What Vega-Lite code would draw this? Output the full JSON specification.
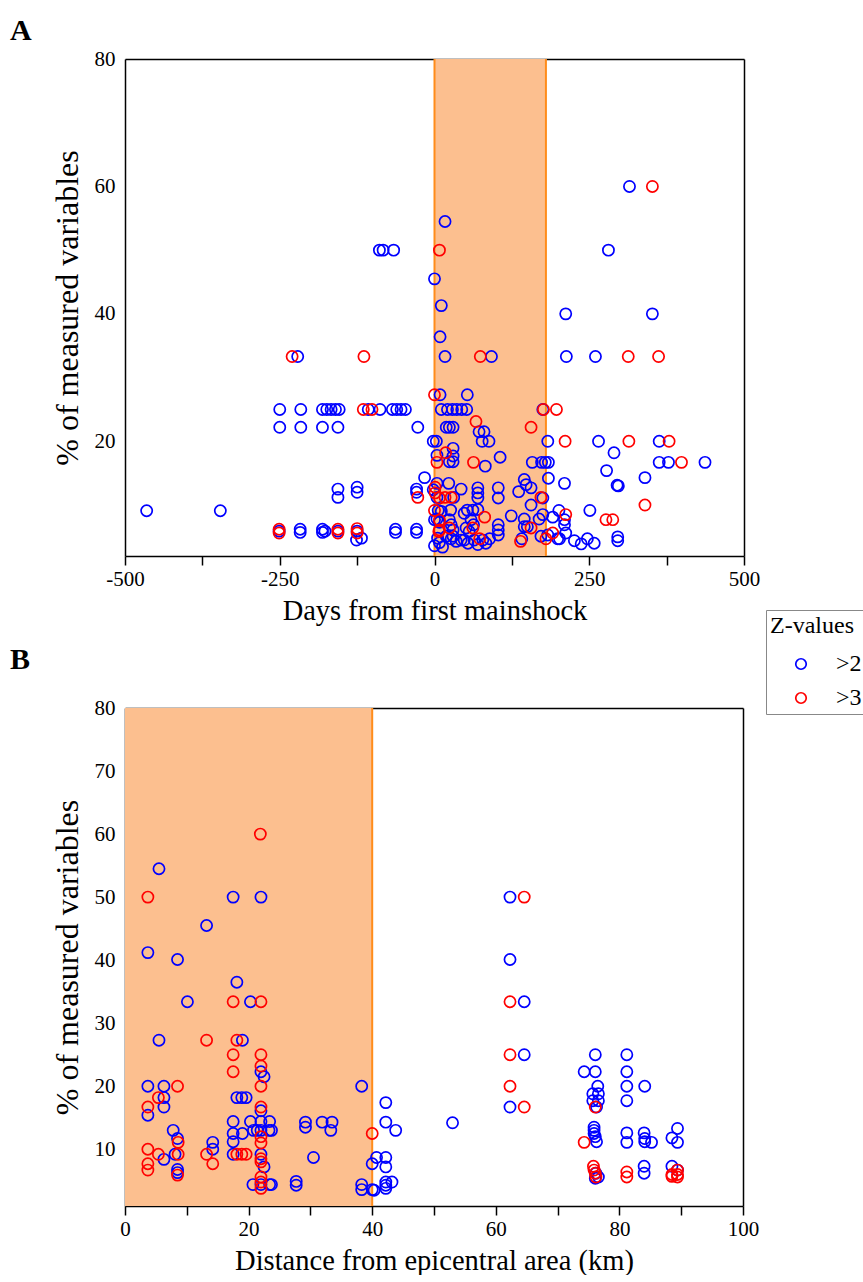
{
  "$schema": "https://vega.github.io/schema/vega-lite/v6.json",
  "padding": {"left": 10, "top": 16, "right": 0, "bottom": 0},
  "background": "white",
  "config": {
    "font": "Liberation Serif",
    "view": {"stroke": null},
    "axis": {
      "domainColor": "#000", "domainWidth": 1.5, "tickColor": "#000", "tickWidth": 1.5,
      "labelFont": "Liberation Serif", "labelFontSize": 21, "labelColor": "#000",
      "titleFont": "Liberation Serif", "titleFontSize": 28.5, "titleFontWeight": "normal", "titleColor": "#000",
      "grid": false, "zindex": 1, "labelOverlap": false, "labelFlush": false
    },
    "title": {"font": "Liberation Serif", "fontSize": 30, "fontWeight": "bold", "color": "#000"}
  },
  "datasets": {
    "a": [
      {"x":-465,"y":9.1,"z":">2"},{"x":-346,"y":9.1,"z":">2"},{"x":-221,"y":33.3,"z":">2"},
      {"x":-250,"y":25,"z":">2"},{"x":-216,"y":25,"z":">2"},{"x":-181,"y":25,"z":">2"},{"x":-174,"y":25,"z":">2"},{"x":-167,"y":25,"z":">2"},{"x":-160,"y":25,"z":">2"},{"x":-154,"y":25,"z":">2"},{"x":-107,"y":25,"z":">2"},{"x":-88,"y":25,"z":">2"},{"x":-68,"y":25,"z":">2"},{"x":-61,"y":25,"z":">2"},{"x":-54,"y":25,"z":">2"},{"x":-47,"y":25,"z":">2"},
      {"x":-250,"y":22.2,"z":">2"},{"x":-216,"y":22.2,"z":">2"},{"x":-181,"y":22.2,"z":">2"},{"x":-156,"y":22.2,"z":">2"},{"x":-27,"y":22.2,"z":">2"},
      {"x":-156,"y":12.5,"z":">2"},{"x":-156,"y":11.2,"z":">2"},{"x":-125,"y":12.8,"z":">2"},{"x":-125,"y":12.0,"z":">2"},{"x":-29,"y":12.5,"z":">2"},{"x":-29,"y":12.0,"z":">2"},{"x":-16,"y":14.3,"z":">2"},
      {"x":-251,"y":5.9,"z":">2"},{"x":-217,"y":6.2,"z":">2"},{"x":-217,"y":5.7,"z":">2"},{"x":-181,"y":6.2,"z":">2"},{"x":-181,"y":5.7,"z":">2"},{"x":-177,"y":5.9,"z":">2"},{"x":-156,"y":5.9,"z":">2"},{"x":-125,"y":5.9,"z":">2"},{"x":-126,"y":4.5,"z":">2"},{"x":-118,"y":4.8,"z":">2"},{"x":-63,"y":6.2,"z":">2"},{"x":-63,"y":5.7,"z":">2"},{"x":-29,"y":6.2,"z":">2"},{"x":-29,"y":5.7,"z":">2"},
      {"x":-89,"y":50,"z":">2"},{"x":-83,"y":50,"z":">2"},{"x":-66,"y":50,"z":">2"},
      {"x":0,"y":45.5,"z":">2"},{"x":11,"y":41.3,"z":">2"},{"x":9,"y":36.4,"z":">2"},{"x":17,"y":33.3,"z":">2"},{"x":17,"y":54.5,"z":">2"},{"x":9,"y":27.3,"z":">2"},{"x":53,"y":27.3,"z":">2"},
      {"x":11,"y":25,"z":">2"},{"x":21,"y":25,"z":">2"},{"x":29,"y":25,"z":">2"},{"x":36,"y":25,"z":">2"},{"x":44,"y":25,"z":">2"},{"x":52,"y":25,"z":">2"},{"x":175,"y":25,"z":">2"},
      {"x":19,"y":22.2,"z":">2"},{"x":24,"y":22.2,"z":">2"},{"x":30,"y":22.2,"z":">2"},
      {"x":72,"y":21.5,"z":">2"},{"x":80,"y":21.5,"z":">2"},{"x":77,"y":20,"z":">2"},{"x":88,"y":20,"z":">2"},{"x":-2,"y":20,"z":">2"},{"x":3,"y":20,"z":">2"},{"x":183,"y":20,"z":">2"},{"x":265,"y":20,"z":">2"},{"x":363,"y":20,"z":">2"},
      {"x":30,"y":18.9,"z":">2"},{"x":4,"y":17.8,"z":">2"},{"x":30,"y":17.7,"z":">2"},{"x":24,"y":16.8,"z":">2"},{"x":30,"y":16.8,"z":">2"},{"x":82,"y":16.1,"z":">2"},{"x":106,"y":17.5,"z":">2"},{"x":158,"y":16.7,"z":">2"},{"x":173,"y":16.7,"z":">2"},{"x":179,"y":16.7,"z":">2"},{"x":184,"y":16.7,"z":">2"},{"x":290,"y":18.2,"z":">2"},{"x":363,"y":16.7,"z":">2"},{"x":378,"y":16.7,"z":">2"},{"x":437,"y":16.7,"z":">2"},{"x":278,"y":15.4,"z":">2"},
      {"x":184,"y":14.2,"z":">2"},{"x":210,"y":13.4,"z":">2"},{"x":340,"y":14.3,"z":">2"},{"x":295,"y":13.1,"z":">2"},{"x":297,"y":13.0,"z":">2"},{"x":4,"y":13.4,"z":">2"},{"x":23,"y":13.4,"z":">2"},{"x":43,"y":12.5,"z":">2"},{"x":70,"y":12.7,"z":">2"},{"x":70,"y":11.9,"z":">2"},{"x":70,"y":11.1,"z":">2"},{"x":103,"y":12.7,"z":">2"},{"x":103,"y":11.1,"z":">2"},{"x":136,"y":12.1,"z":">2"},{"x":145,"y":14.0,"z":">2"},{"x":148,"y":13.2,"z":">2"},{"x":156,"y":12.7,"z":">2"},{"x":156,"y":10.0,"z":">2"},{"x":175,"y":11.1,"z":">2"},{"x":31,"y":11.2,"z":">2"},{"x":4,"y":11.2,"z":">2"},{"x":-2,"y":12.4,"z":">2"},
      {"x":6,"y":9.15,"z":">2"},{"x":11,"y":9.0,"z":">2"},{"x":26,"y":9.2,"z":">2"},{"x":48,"y":8.7,"z":">2"},{"x":53,"y":9.2,"z":">2"},{"x":62,"y":9.2,"z":">2"},{"x":70,"y":9.3,"z":">2"},{"x":124,"y":8.3,"z":">2"},{"x":145,"y":7.8,"z":">2"},{"x":175,"y":8.5,"z":">2"},{"x":201,"y":9.15,"z":">2"},{"x":191,"y":8.1,"z":">2"},{"x":210,"y":7.7,"z":">2"},{"x":210,"y":6.9,"z":">2"},{"x":169,"y":7.8,"z":">2"},{"x":251,"y":9.15,"z":">2"},
      {"x":4,"y":7.8,"z":">2"},{"x":8,"y":7.3,"z":">2"},{"x":0,"y":7.7,"z":">2"},{"x":24,"y":7.7,"z":">2"},{"x":27,"y":6.9,"z":">2"},{"x":59,"y":7.7,"z":">2"},{"x":63,"y":6.9,"z":">2"},{"x":51,"y":6.4,"z":">2"},{"x":56,"y":5.85,"z":">2"},{"x":103,"y":6.9,"z":">2"},{"x":103,"y":6.1,"z":">2"},{"x":103,"y":5.3,"z":">2"},{"x":145,"y":6.6,"z":">2"},{"x":150,"y":6.6,"z":">2"},{"x":183,"y":5.3,"z":">2"},{"x":199,"y":4.7,"z":">2"},{"x":212,"y":5.6,"z":">2"},{"x":172,"y":5.1,"z":">2"},{"x":141,"y":4.7,"z":">2"},{"x":0,"y":3.6,"z":">2"},{"x":13,"y":3.4,"z":">2"},{"x":19,"y":5.1,"z":">2"},{"x":27,"y":4.7,"z":">2"},{"x":35,"y":4.3,"z":">2"},{"x":43,"y":4.5,"z":">2"},{"x":48,"y":4.5,"z":">2"},{"x":54,"y":4.0,"z":">2"},{"x":64,"y":4.5,"z":">2"},{"x":70,"y":3.8,"z":">2"},{"x":78,"y":4.5,"z":">2"},{"x":83,"y":4.0,"z":">2"},{"x":89,"y":4.7,"z":">2"},{"x":5,"y":4.8,"z":">2"},{"x":8,"y":4.1,"z":">2"},{"x":30,"y":6.1,"z":">2"},{"x":30,"y":5.1,"z":">2"},
      {"x":226,"y":4.4,"z":">2"},{"x":237,"y":3.9,"z":">2"},{"x":247,"y":4.7,"z":">2"},{"x":258,"y":4.0,"z":">2"},{"x":296,"y":5.0,"z":">2"},{"x":296,"y":4.4,"z":">2"},{"x":202,"y":4.7,"z":">2"},
      {"x":315,"y":60,"z":">2"},{"x":281,"y":50,"z":">2"},{"x":212,"y":40,"z":">2"},{"x":352,"y":40,"z":">2"},{"x":213,"y":33.3,"z":">2"},{"x":260,"y":33.3,"z":">2"},{"x":92,"y":33.3,"z":">2"},
      {"x":-230,"y":33.3,"z":">3"},{"x":-114,"y":33.3,"z":">3"},{"x":-115,"y":25,"z":">3"},{"x":-101,"y":25,"z":">3"},{"x":-27,"y":11.2,"z":">3"},{"x":-251,"y":6.2,"z":">3"},{"x":-251,"y":5.6,"z":">3"},{"x":-156,"y":6.2,"z":">3"},{"x":-156,"y":5.6,"z":">3"},{"x":-125,"y":6.3,"z":">3"},{"x":-125,"y":5.6,"z":">3"},
      {"x":8,"y":50,"z":">3"},{"x":0,"y":27.3,"z":">3"},{"x":176,"y":25,"z":">3"},{"x":197,"y":25,"z":">3"},{"x":67,"y":23.1,"z":">3"},{"x":156,"y":22.2,"z":">3"},{"x":211,"y":20,"z":">3"},{"x":314,"y":20,"z":">3"},{"x":379,"y":20,"z":">3"},{"x":18,"y":18.2,"z":">3"},{"x":4,"y":16.7,"z":">3"},{"x":63,"y":16.7,"z":">3"},{"x":399,"y":16.7,"z":">3"},
      {"x":172,"y":11.2,"z":">3"},{"x":1,"y":12.8,"z":">3"},{"x":1,"y":11.9,"z":">3"},{"x":8,"y":11.1,"z":">3"},{"x":17,"y":11.2,"z":">3"},{"x":27,"y":11.2,"z":">3"},
      {"x":0,"y":9.15,"z":">3"},{"x":81,"y":8.1,"z":">3"},{"x":212,"y":8.5,"z":">3"},{"x":156,"y":6.4,"z":">3"},{"x":277,"y":7.7,"z":">3"},{"x":288,"y":7.7,"z":">3"},{"x":340,"y":10.0,"z":">3"},
      {"x":8,"y":7.6,"z":">3"},{"x":62,"y":6.4,"z":">3"},{"x":24,"y":6.4,"z":">3"},{"x":8,"y":6.1,"z":">3"},{"x":7,"y":5.85,"z":">3"},{"x":191,"y":5.6,"z":">3"},{"x":180,"y":4.7,"z":">3"},{"x":139,"y":4.3,"z":">3"},{"x":73,"y":4.7,"z":">3"},
      {"x":352,"y":60,"z":">3"},{"x":313,"y":33.3,"z":">3"},{"x":362,"y":33.3,"z":">3"},{"x":74,"y":33.3,"z":">3"}
    ],
    "b": [
      {"x":5.5,"y":54.5,"z":">2"},{"x":17.5,"y":50,"z":">2"},{"x":22.0,"y":50,"z":">2"},{"x":13.2,"y":45.5,"z":">2"},{"x":3.7,"y":41.2,"z":">2"},{"x":8.5,"y":40.1,"z":">2"},{"x":18.1,"y":36.5,"z":">2"},{"x":20.3,"y":33.4,"z":">2"},{"x":10.1,"y":33.4,"z":">2"},{"x":5.5,"y":27.3,"z":">2"},{"x":19.0,"y":27.3,"z":">2"},
      {"x":22,"y":22.3,"z":">2"},{"x":22.5,"y":21.5,"z":">2"},{"x":3.7,"y":20,"z":">2"},{"x":6.3,"y":20,"z":">2"},{"x":38.3,"y":20,"z":">2"},{"x":6.3,"y":18.2,"z":">2"},{"x":18.1,"y":18.2,"z":">2"},{"x":18.9,"y":18.2,"z":">2"},{"x":19.6,"y":18.2,"z":">2"},{"x":6.3,"y":16.7,"z":">2"},{"x":22,"y":16.1,"z":">2"},{"x":3.7,"y":15.4,"z":">2"},
      {"x":42.2,"y":17.4,"z":">2"},{"x":42.2,"y":14.3,"z":">2"},{"x":43.8,"y":13.0,"z":">2"},{"x":17.5,"y":14.4,"z":">2"},{"x":17.5,"y":12.5,"z":">2"},{"x":17.5,"y":11.2,"z":">2"},{"x":19,"y":12.5,"z":">2"},{"x":20.3,"y":14.4,"z":">2"},{"x":20.8,"y":13.0,"z":">2"},{"x":21.4,"y":13.0,"z":">2"},{"x":22,"y":14.4,"z":">2"},{"x":22,"y":13.0,"z":">2"},{"x":23.4,"y":14.4,"z":">2"},{"x":23.7,"y":13.0,"z":">2"},{"x":23.3,"y":13.0,"z":">2"},
      {"x":7.8,"y":13.0,"z":">2"},{"x":8.5,"y":11.7,"z":">2"},{"x":14.2,"y":11.1,"z":">2"},{"x":14.2,"y":10.0,"z":">2"},{"x":29.2,"y":14.3,"z":">2"},{"x":29.2,"y":13.5,"z":">2"},{"x":31.9,"y":14.3,"z":">2"},{"x":33.5,"y":14.3,"z":">2"},{"x":33.3,"y":13.0,"z":">2"},
      {"x":6.3,"y":8.4,"z":">2"},{"x":8.1,"y":9.2,"z":">2"},{"x":17.5,"y":9.2,"z":">2"},{"x":22,"y":9.2,"z":">2"},{"x":22.5,"y":7.2,"z":">2"},{"x":30.5,"y":8.7,"z":">2"},{"x":8.5,"y":6.8,"z":">2"},{"x":8.5,"y":6.3,"z":">2"},
      {"x":20.7,"y":4.4,"z":">2"},{"x":22,"y":4.4,"z":">2"},{"x":23.4,"y":4.4,"z":">2"},{"x":23.7,"y":4.4,"z":">2"},{"x":27.7,"y":4.9,"z":">2"},{"x":27.7,"y":4.3,"z":">2"},{"x":38.3,"y":4.4,"z":">2"},{"x":38.3,"y":3.6,"z":">2"},{"x":40.0,"y":7.7,"z":">2"},{"x":40.0,"y":3.6,"z":">2"},{"x":40.3,"y":3.5,"z":">2"},
      {"x":40.7,"y":8.7,"z":">2"},{"x":42.2,"y":8.7,"z":">2"},{"x":42.2,"y":7.2,"z":">2"},{"x":42.2,"y":4.8,"z":">2"},{"x":42.2,"y":4.3,"z":">2"},{"x":42.2,"y":3.8,"z":">2"},{"x":43.2,"y":4.8,"z":">2"},{"x":53,"y":14.2,"z":">2"},
      {"x":62.3,"y":50,"z":">2"},{"x":62.3,"y":40.1,"z":">2"},{"x":64.6,"y":33.4,"z":">2"},{"x":64.6,"y":25,"z":">2"},{"x":62.3,"y":16.7,"z":">2"},
      {"x":76.1,"y":25,"z":">2"},{"x":81.2,"y":25,"z":">2"},{"x":74.3,"y":22.3,"z":">2"},{"x":76.1,"y":22.3,"z":">2"},{"x":81.2,"y":22.3,"z":">2"},{"x":76.5,"y":20,"z":">2"},{"x":81.2,"y":20,"z":">2"},{"x":84.1,"y":20,"z":">2"},{"x":75.7,"y":18.8,"z":">2"},{"x":76.6,"y":18.8,"z":">2"},{"x":75.7,"y":17.7,"z":">2"},{"x":76.6,"y":17.7,"z":">2"},{"x":76.3,"y":16.7,"z":">2"},{"x":81.2,"y":17.7,"z":">2"},
      {"x":75.9,"y":13.5,"z":">2"},{"x":75.9,"y":13.0,"z":">2"},{"x":75.9,"y":12.5,"z":">2"},{"x":76.1,"y":12.0,"z":">2"},{"x":76.3,"y":11.2,"z":">2"},{"x":81.2,"y":12.6,"z":">2"},{"x":81.2,"y":11.1,"z":">2"},{"x":84.0,"y":12.6,"z":">2"},{"x":84.1,"y":11.7,"z":">2"},{"x":84.1,"y":11.2,"z":">2"},{"x":85.2,"y":11.1,"z":">2"},{"x":88.5,"y":11.8,"z":">2"},{"x":89.4,"y":13.3,"z":">2"},{"x":89.4,"y":11.1,"z":">2"},
      {"x":76.2,"y":6.2,"z":">2"},{"x":76.6,"y":5.6,"z":">2"},{"x":76.1,"y":5.4,"z":">2"},{"x":84,"y":7.3,"z":">2"},{"x":84,"y":6.2,"z":">2"},{"x":88.5,"y":7.3,"z":">2"},{"x":89.4,"y":6.7,"z":">2"},
      {"x":21.9,"y":60,"z":">3"},{"x":3.7,"y":50,"z":">3"},{"x":17.5,"y":33.4,"z":">3"},{"x":22.0,"y":33.4,"z":">3"},{"x":13.2,"y":27.3,"z":">3"},{"x":18.1,"y":27.3,"z":">3"},{"x":17.5,"y":25,"z":">3"},{"x":22,"y":25,"z":">3"},{"x":22,"y":23.2,"z":">3"},{"x":17.5,"y":22.3,"z":">3"},{"x":22,"y":20,"z":">3"},{"x":8.5,"y":20,"z":">3"},{"x":5.4,"y":18.2,"z":">3"},{"x":3.7,"y":16.7,"z":">3"},{"x":22,"y":16.7,"z":">3"},
      {"x":22,"y":12.0,"z":">3"},{"x":22,"y":11.0,"z":">3"},{"x":8.6,"y":11.1,"z":">3"},{"x":40.0,"y":12.5,"z":">3"},{"x":3.7,"y":10.0,"z":">3"},{"x":5.4,"y":9.2,"z":">3"},{"x":8.6,"y":9.2,"z":">3"},{"x":13.2,"y":9.2,"z":">3"},{"x":14.2,"y":7.7,"z":">3"},{"x":18.1,"y":9.2,"z":">3"},{"x":18.9,"y":9.2,"z":">3"},{"x":19.6,"y":9.2,"z":">3"},{"x":22,"y":8.5,"z":">3"},{"x":22,"y":8.0,"z":">3"},
      {"x":3.7,"y":7.7,"z":">3"},{"x":3.7,"y":6.7,"z":">3"},{"x":8.5,"y":5.9,"z":">3"},{"x":22,"y":5.6,"z":">3"},{"x":22,"y":4.8,"z":">3"},{"x":22,"y":3.8,"z":">3"},
      {"x":64.6,"y":50,"z":">3"},{"x":62.3,"y":33.4,"z":">3"},{"x":62.3,"y":25,"z":">3"},{"x":62.3,"y":20,"z":">3"},{"x":64.6,"y":16.7,"z":">3"},
      {"x":76.1,"y":16.7,"z":">3"},{"x":74.3,"y":11.1,"z":">3"},{"x":75.8,"y":7.3,"z":">3"},{"x":75.9,"y":6.7,"z":">3"},{"x":76.1,"y":6.2,"z":">3"},{"x":76.2,"y":5.6,"z":">3"},{"x":81.2,"y":6.4,"z":">3"},{"x":81.2,"y":5.6,"z":">3"},{"x":88.5,"y":6.0,"z":">3"},{"x":88.5,"y":5.7,"z":">3"},{"x":89.4,"y":6.7,"z":">3"},{"x":89.4,"y":6.0,"z":">3"},{"x":89.4,"y":5.6,"z":">3"}
    ]
  },
  "spacing": 152,
  "bounds": "flush",
  "vconcat": [
    {
      "width": 619, "height": 497,
      "title": {"text": "A", "anchor": "start", "frame": "group", "dx": -115, "offset": 2},
      "layer": [
        {
          "data": {"values": [{"s": 0, "e": 180}]},
          "mark": {"type": "rect", "color": "#FCBF8F"},
          "encoding": {
            "x": {"field": "s", "type": "quantitative", "scale": {"domain": [-500, 500], "nice": false, "zero": false},
                  "axis": {"orient": "bottom", "values": [-500,-375,-250,-125,0,125,250,375,500],
                           "labelExpr": "datum.value % 250 === 0 ? '' + datum.value : ''",
                           "tickSize": 9, "labelPadding": 3, "title": "Days from first mainshock", "titlePadding": 7,
                           "encode": {"ticks": {"update": {"y2": {"signal": "datum.value % 250 === 0 ? 9 : 5"}}}}}},
            "x2": {"field": "e"}
          }
        },
        {
          "data": {"values": [{"e": 0}, {"e": 180}]},
          "mark": {"type": "rule", "color": "#FF8C1A", "strokeWidth": 2},
          "encoding": {"x": {"field": "e", "type": "quantitative", "axis": null}}
        },
        {
          "data": {"name": "a"},
          "mark": {"type": "point", "shape": "circle", "filled": false, "size": 125, "strokeWidth": 1.7, "opacity": 1},
          "encoding": {
            "x": {"field": "x", "type": "quantitative", "axis": null},
            "y": {"field": "y", "type": "quantitative", "scale": {"domain": [2, 80], "nice": false, "zero": false},
                  "axis": {"orient": "left", "values": [10,20,30,40,50,60,70,80],
                           "labelExpr": "datum.value % 20 === 0 ? '' + datum.value : ''",
                           "tickSize": 0, "labelPadding": 10, "title": "% of measured variables", "titlePadding": 10, "titleFontSize": 32,
                           "encode": {"ticks": {"update": {"x2": {"signal": "datum.value % 20 === 0 ? 10 : 6"}}}}}},
            "color": {"field": "z", "type": "nominal",
                      "scale": {"domain": [">2", ">3"], "range": ["#0000FF", "#FF0000"]},
                      "legend": {"title": "Z-values", "orient": "none", "legendX": 641, "legendY": 551,
                                 "titleFontSize": 24, "titleFontWeight": "normal", "titleFont": "Liberation Serif", "titleColor": "#000",
                                 "labelFontSize": 24, "labelFont": "Liberation Serif", "labelColor": "#000",
                                 "strokeColor": "#888", "padding": 4, "symbolOffset": 19, "labelOffset": 23,
                                 "rowPadding": 10, "titlePadding": 14, "symbolSize": 110, "symbolStrokeWidth": 1.7,
                                 "symbolType": "circle", "cornerRadius": 0, "fillColor": "#fff"}}
          }
        },
        {
          "data": {"name": "a"},
          "mark": {"type": "point", "opacity": 0},
          "encoding": {
            "x": {"field": "x", "type": "quantitative",
                  "axis": {"orient": "top", "values": [-500,-375,-250,-125,0,125,250,375,500], "labels": false, "title": null, "tickSize": 0,
                           "encode": {"ticks": {"update": {"y2": {"signal": "datum.value % 250 === 0 ? 9 : 5"}}}}}},
            "y": {"field": "y", "type": "quantitative",
                  "axis": {"orient": "right", "values": [10,20,30,40,50,60,70,80], "labels": false, "title": null, "tickSize": 0,
                           "encode": {"ticks": {"update": {"x2": {"signal": "datum.value % 20 === 0 ? -10 : -6"}}}}}}
          }
        }
      ],
      "resolve": {"axis": {"x": "independent", "y": "independent"}}
    },
    {
      "width": 618, "height": 498,
      "title": {"text": "B", "anchor": "start", "frame": "group", "dx": -115, "offset": 22},
      "layer": [
        {
          "data": {"values": [{"s": 0, "e": 40}]},
          "mark": {"type": "rect", "color": "#FCBF8F"},
          "encoding": {
            "x": {"field": "s", "type": "quantitative", "scale": {"domain": [0, 100], "nice": false, "zero": false},
                  "axis": {"orient": "bottom", "values": [0,10,20,30,40,50,60,70,80,90,100],
                           "labelExpr": "datum.value % 20 === 0 ? '' + datum.value : ''",
                           "tickSize": 9, "labelPadding": 3, "title": "Distance from epicentral area (km)", "titlePadding": 7,
                           "encode": {"ticks": {"update": {"y2": {"signal": "datum.value % 20 === 0 ? 9 : 5"}}}}}},
            "x2": {"field": "e"}
          }
        },
        {
          "data": {"values": [{"e": 40}]},
          "mark": {"type": "rule", "color": "#FF8C1A", "strokeWidth": 2},
          "encoding": {"x": {"field": "e", "type": "quantitative", "axis": null}}
        },
        {
          "data": {"name": "b"},
          "mark": {"type": "point", "shape": "circle", "filled": false, "size": 125, "strokeWidth": 1.7, "opacity": 1},
          "encoding": {
            "x": {"field": "x", "type": "quantitative", "axis": null},
            "y": {"field": "y", "type": "quantitative", "scale": {"domain": [1, 80], "nice": false, "zero": false},
                  "axis": {"orient": "left", "values": [5,10,15,20,25,30,35,40,45,50,55,60,65,70,75,80],
                           "labelExpr": "datum.value % 10 === 0 ? '' + datum.value : ''",
                           "tickSize": 0, "labelPadding": 10, "title": "% of measured variables", "titlePadding": 10, "titleFontSize": 32,
                           "encode": {"ticks": {"update": {"x2": {"signal": "datum.value % 10 === 0 ? 10 : 6"}}}}}},
            "color": {"field": "z", "type": "nominal", "scale": {"domain": [">2", ">3"], "range": ["#0000FF", "#FF0000"]}}
          }
        },
        {
          "data": {"name": "b"},
          "mark": {"type": "point", "opacity": 0},
          "encoding": {
            "x": {"field": "x", "type": "quantitative",
                  "axis": {"orient": "top", "values": [0,10,20,30,40,50,60,70,80,90,100], "labels": false, "title": null, "tickSize": 0,
                           "encode": {"ticks": {"update": {"y2": {"signal": "datum.value % 20 === 0 ? 9 : 5"}}}}}},
            "y": {"field": "y", "type": "quantitative",
                  "axis": {"orient": "right", "values": [5,10,15,20,25,30,35,40,45,50,55,60,65,70,75,80], "labels": false, "title": null, "tickSize": 0,
                           "encode": {"ticks": {"update": {"x2": {"signal": "datum.value % 10 === 0 ? -10 : -6"}}}}}}
          }
        }
      ],
      "resolve": {"axis": {"x": "independent", "y": "independent"}}
    }
  ]
}
